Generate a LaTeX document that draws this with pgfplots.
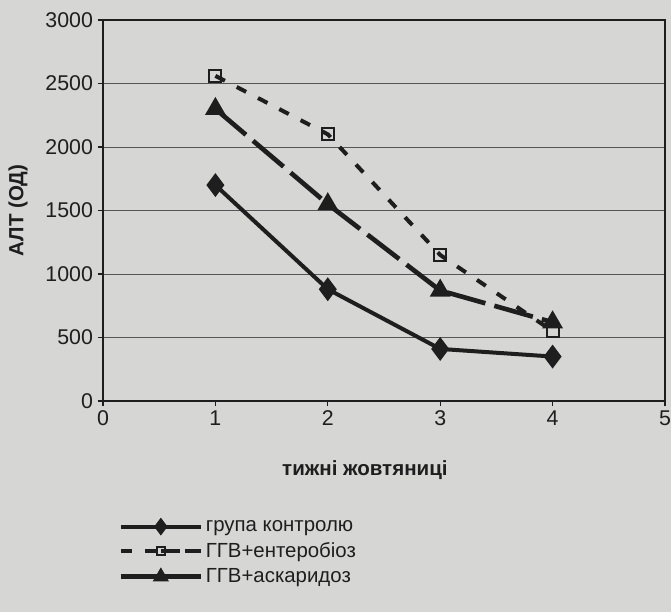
\documentclass[border=0pt]{standalone}
\usepackage{pgfplots}
\pgfplotsset{compat=1.18}
\usepackage{fontspec}
\setmainfont{Liberation Sans}
\definecolor{bg}{RGB}{214,214,212}
\definecolor{ink}{RGB}{30,30,30}
\begin{document}
\begin{tikzpicture}
\useasboundingbox (0,0) rectangle (503.25pt,459pt);
\fill[bg] (0,0) rectangle (503.25pt,459pt);
\begin{axis}[
  at={(77.25pt,158.25pt)}, anchor=south west,
  scale only axis, width=421.5pt, height=285.75pt,
  xmin=0, xmax=5, ymin=0, ymax=3000,
  xtick={0,1,2,3,4,5}, ytick={0,500,1000,1500,2000,2500,3000},
  ymajorgrids, grid style={ink!75, line width=0.6pt},
  axis line style={ink, line width=0.9pt},
  tick style={ink, line width=0.8pt},
  tick align=outside, major tick length=4pt,
  xtick pos=bottom, ytick pos=left,
  /pgf/number format/assume math mode=true,
  /pgf/number format/1000 sep={},
  ticklabel style={font=\fontsize{16}{18}\selectfont, text=ink},
  xlabel={\textbf{тижні жовтяниці}},
  ylabel={\textbf{АЛТ (ОД)}},
  label style={font=\fontsize{15.4}{17}\selectfont, text=ink},
  xlabel style={at={(axis description cs:0.466,-0.181)}, anchor=center},
  ylabel style={at={(axis description cs:-0.151,0.5)}, anchor=center, rotate=0},
  legend style={draw=none, fill=none, at={(axis description cs:0.02,-0.298)}, anchor=north west,
    font=\fontsize{15.3}{17}\selectfont, text=ink, row sep=3pt,
    /tikz/every even column/.append style={column sep=2pt}},
  legend cell align=left,
  legend image code/.code={
    \draw[#1] (0pt,0pt) -- (30pt,0pt);
    \draw[#1,every mark/.append style={scale=0.65},mark repeat=2,mark phase=2] plot coordinates {(0pt,0pt) (30pt,0pt) (60pt,0pt)};
    \draw[#1] (30pt,0pt) -- (60pt,0pt);
  },
]
\addplot[ink, line width=3pt, mark=diamond*, mark size=6.5pt, mark options={solid, fill=ink}]
  coordinates {(1,1700) (2,880) (3,410) (4,350)};
\addlegendentry{група контролю}
\addplot[ink, line width=3pt, dash pattern=on 8pt off 10pt, mark=square, mark size=4.5pt, mark options={solid, fill=white, line width=1.5pt}]
  coordinates {(1,2560) (2,2100) (3,1150) (4,550)};
\addlegendentry{ГГВ+ентеробіоз}
\addplot[ink, line width=3.5pt, dash pattern=on 30pt off 7pt, mark=triangle*, mark size=5.5pt, mark options={solid, fill=ink}]
  coordinates {(1,2300) (2,1550) (3,870) (4,620)};
\addlegendentry{ГГВ+аскаридоз}
\end{axis}
\end{tikzpicture}
\end{document}
